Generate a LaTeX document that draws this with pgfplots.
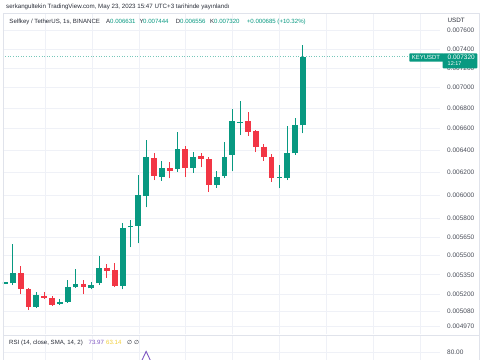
\documentclass[border=0pt]{standalone}
\usepackage{pgfplots}
\pgfplotsset{compat=1.18}
\usepackage{pgfplotstable}
\usepackage{fontspec}
\setmainfont{Liberation Sans}
\newfontfamily\djv{DejaVu Sans}
\definecolor{tvgreen}{HTML}{089981}
\definecolor{tvred}{HTML}{F23645}
\definecolor{tvgrid}{HTML}{EFF1F7}
\definecolor{tvframe}{HTML}{E0E3EB}
\definecolor{tvtext}{HTML}{2A2E39}
\definecolor{tvlabel}{HTML}{4A4E59}
\definecolor{rsipurple}{HTML}{7E57C2}
\definecolor{rsiyellow}{HTML}{F2CF3A}
\newcommand\fs[1]{\fontsize{#1}{#1}\selectfont}

\pgfplotstableread{
i u o h l c
0 1 0.005283 0.005295 0.005280 0.005292
1 1 0.005285 0.005592 0.005272 0.005362
2 0 0.005362 0.005420 0.005202 0.005240
3 0 0.005240 0.005250 0.005086 0.005106
4 1 0.005110 0.005217 0.005101 0.005195
5 0 0.005192 0.005217 0.005167 0.005172
6 0 0.005175 0.005190 0.005119 0.005125
7 1 0.005130 0.005169 0.005123 0.005143
8 1 0.005147 0.005310 0.005140 0.005257
9 1 0.005255 0.005393 0.005250 0.005280
10 0 0.005282 0.005310 0.005202 0.005259
11 1 0.005247 0.005295 0.005240 0.005274
12 1 0.005285 0.005497 0.005272 0.005400
13 0 0.005405 0.005434 0.005328 0.005379
14 0 0.005389 0.005439 0.005257 0.005265
15 1 0.005265 0.005761 0.005240 0.005725
16 1 0.005728 0.005788 0.005566 0.005739
17 1 0.005739 0.006175 0.005598 0.006000
18 1 0.005991 0.006493 0.005895 0.006334
19 0 0.006330 0.006370 0.006131 0.006166
20 1 0.006160 0.006300 0.006125 0.006235
21 0 0.006235 0.006294 0.006146 0.006213
22 1 0.006228 0.006571 0.006204 0.006410
23 0 0.006410 0.006438 0.006160 0.006233
24 1 0.006240 0.006380 0.006195 0.006339
25 0 0.006349 0.006376 0.006244 0.006318
26 0 0.006318 0.006337 0.006029 0.006087
27 1 0.006087 0.006210 0.006063 0.006160
28 1 0.006166 0.006472 0.006148 0.006339
29 1 0.006355 0.006789 0.006210 0.006673
30 1 0.006657 0.006868 0.006540 0.006666
31 0 0.006673 0.006757 0.006534 0.006571
32 0 0.006578 0.006590 0.006382 0.006426
33 0 0.006431 0.006456 0.006303 0.006334
34 0 0.006339 0.006364 0.006116 0.006148
35 1 0.006148 0.006264 0.006058 0.006160
36 1 0.006148 0.006625 0.006131 0.006370
37 1 0.006370 0.006699 0.006355 0.006635
38 1 0.006631 0.007444 0.006556 0.007320
}\ohlc

\pgfplotstableread{
i rsi
15 60.0
16 63.0
17 72.0
18 80.3
19 72.0
20 70.0
21 69.0
}\rsitab

\begin{document}
\begin{tikzpicture}
\useasboundingbox (0,0) rectangle (485bp,360bp);
\fill[white] (0,0) rectangle (485bp,360bp);

\pgfplotsset{
  tvbase/.style={
    scale only axis, anchor=south west, width=437bp,
    xmin=-0.255, xmax=55.48,
    axis line style={draw=none}, major tick length=0pt,
    xtick={5.15,11.12,17.09,23.06,29.03,35.0,40.97,46.94,52.91},
    xticklabels={},
    yticklabel pos=right,
    yticklabel style={anchor=west, inner sep=0pt, xshift=7bp, font=\fs{6.5}, text=tvlabel},
    grid=major, grid style={tvgrid, line width=0.7bp},
  },
  candle/.style={no markers, forget plot, line cap=butt},
}

% price pane
\begin{axis}[tvbase, at={(3bp,26bp)}, height=321bp,
  ymode=log, ymin=0.0049138, ymax=0.0077932,
  ytick={0.00497,0.00508,0.0052,0.00535,0.0055,0.00565,0.0058,0.006,0.0062,0.0064,0.0066,0.0068,0.007,0.0072,0.0074,0.0076},
  yticklabels={0.004970,0.005080,0.005200,0.005350,0.005500,0.005650,0.005800,0.006000,0.006200,0.006400,0.006600,0.006800,0.007000,0.007200,0.007400,0.007600},
  minor ytick={},
]
\addplot[candle, tvgreen!55, dotted, line width=0.6bp] coordinates {(-0.3,0.00732) (51.5,0.00732)};
\pgfplotstablegetrowsof{\ohlc}
\pgfmathtruncatemacro\lastrow{\pgfplotsretval-1}
\pgfplotsforeachungrouped \k in {0,...,\lastrow}{%
  \pgfplotstablegetelem{\k}{u}\of\ohlc \let\U\pgfplotsretval
  \pgfplotstablegetelem{\k}{o}\of\ohlc \let\O\pgfplotsretval
  \pgfplotstablegetelem{\k}{h}\of\ohlc \let\H\pgfplotsretval
  \pgfplotstablegetelem{\k}{l}\of\ohlc \let\L\pgfplotsretval
  \pgfplotstablegetelem{\k}{c}\of\ohlc \let\C\pgfplotsretval
  \edef\cmd{%
    \noexpand\addplot[candle, draw=\ifnum\U=1 tvgreen\else tvred\fi, line width=0.9bp] coordinates {(\k,\L) (\k,\H)};
    \noexpand\addplot[candle, draw=\ifnum\U=1 tvgreen\else tvred\fi, line width=5.8bp] coordinates {(\k,\O) (\k,\C)};
  }%
  \cmd
}
\end{axis}

% RSI pane
\begin{axis}[tvbase, at={(3bp,0bp)}, height=25bp,
  ymin=76, ymax=88.5, ytick={80}, yticklabels={80.00},
]
\addplot[rsipurple, line width=0.9bp, no markers] table[x=i, y=rsi] {\rsitab};
\end{axis}

% frame
\draw[tvframe, line width=0.8bp] (3bp,0) -- (3bp,347bp) -- (479bp,347bp) -- (479bp,0);
\draw[tvframe, line width=0.8bp] (3bp,25bp) -- (479bp,25bp);

% title
\node[anchor=west, inner sep=0pt, font=\fs{6.2}, text=tvtext] at (6bp,352.7bp)
  {serkangultekin TradingView.com, May 23, 2023 15:47 UTC+3 tarihinde yayınlandı};

% legend row
\begin{scope}[every node/.style={anchor=west, inner sep=0pt, font=\fs{6.1}}]
\node[text=tvtext] at (9.3bp,338.5bp) {Selfkey / TetherUS, 1s, BINANCE};
\node[text=tvtext] at (106bp,338.5bp) {A};
\node[text=tvgreen] at (110bp,338.5bp) {0.006631};
\node[text=tvtext] at (139.3bp,338.5bp) {Y};
\node[text=tvgreen] at (143bp,338.5bp) {0.007444};
\node[text=tvtext] at (175.7bp,338.5bp) {D};
\node[text=tvgreen] at (180bp,338.5bp) {0.006556};
\node[text=tvtext] at (210bp,338.5bp) {K};
\node[text=tvgreen] at (214bp,338.5bp) {0.007320};
\node[text=tvgreen] at (246.7bp,338.5bp) {+0.000685 (+10.32\%)};
\node[text=tvtext, font=\fs{6.3}] at (447.5bp,339.3bp) {USDT};
% RSI legend
\node[text=tvtext] at (9bp,17.3bp) {RSI (14, close, SMA, 14, 2)};
\node[text=rsipurple] at (88.5bp,17.3bp) {73.97};
\node[text=rsiyellow] at (106bp,17.3bp) {63.14};
\node[text=tvtext, font=\djv\fs{5.8}] at (127bp,17.3bp) {∅ ∅};
\end{scope}

% last price label
\fill[tvgreen, rounded corners=0.8bp] (409.3bp,306.7bp) rectangle (443.5bp,298.3bp);
\fill[tvgreen, rounded corners=0.8bp] (442.7bp,306.7bp) rectangle (477.3bp,291.7bp);
\node[text=white, inner sep=0pt, font=\fs{6}] at (426bp,302.5bp) {KEYUSDT};
\node[text=white, inner sep=0pt, anchor=west, font=\fs{6.5}] at (447.5bp,302.7bp) {0.007320};
\node[text=white, inner sep=0pt, anchor=west, font=\fs{5.5}] at (447.5bp,296.7bp) {12:17};
\end{tikzpicture}
\end{document}
